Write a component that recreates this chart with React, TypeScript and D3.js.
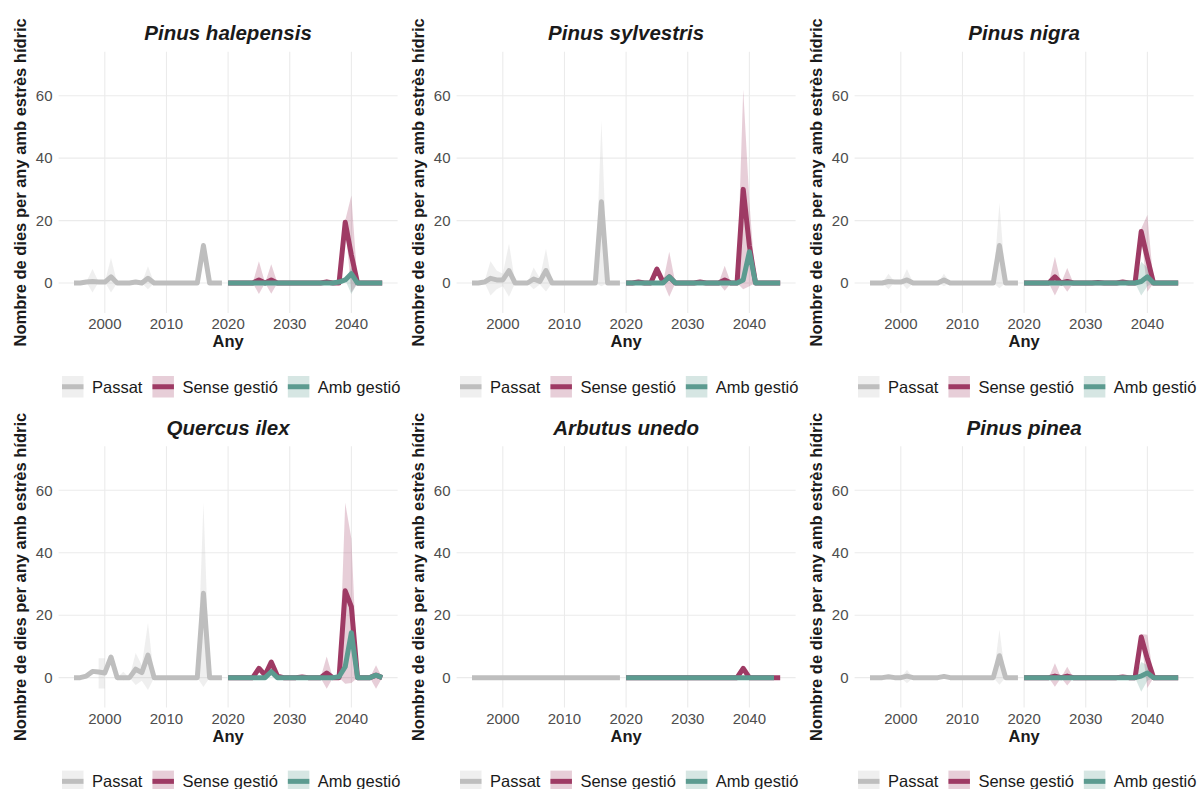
import * as d3 from "d3";

// years on the x axis
const pastYears = [1995, 1996, 1997, 1998, 1999, 2000, 2001, 2002, 2003, 2004, 2005, 2006, 2007, 2008, 2009, 2010, 2011, 2012, 2013, 2014, 2015, 2016, 2017, 2018, 2019];
const futureYears = [2020, 2021, 2022, 2023, 2024, 2025, 2026, 2027, 2028, 2029, 2030, 2031, 2032, 2033, 2034, 2035, 2036, 2037, 2038, 2039, 2040, 2041, 2042, 2043, 2044, 2045];

const seriesNames = ["Passat", "Sense gestió", "Amb gestió"];
const seriesColors = ["#BEBEBE", "#9E3A64", "#5C9B90"];
const speciesNames = ["Pinus halepensis", "Pinus sylvestris", "Pinus nigra", "Quercus ilex", "Arbutus unedo", "Pinus pinea"];
const xTicks = [2000, 2010, 2020, 2030, 2040];
const yTicks = [0, 20, 40, 60];

// Pinus halepensis
const halepensisPassat = [0, 0, 0.3, 0.5, 0.3, 0.3, 2, 0, 0, 0, 0.3, 0, 1.5, 0, 0, 0, 0, 0, 0, 0, 0, 12, 0, 0, 0];
const halepensisPassatLo = [0, 0, 0.3, -3, 0.3, 0.3, -3, 0, 0, 0, 0.3, 0, -2, 0, 0, 0, 0, 0, 0, 0, 0, 11, 0, 0, 0];
const halepensisPassatHi = [0, 0, 0.3, 4.5, 0.3, 0.3, 8, 0, 0, 0, 0.3, 0, 5.4, 0, 0, 0, 0, 0, 0, 0, 0, 13, 0, 0, 0];
const halepensisSense = [0, 0, 0, 0, 0, 1, 0, 1, 0, 0, 0, 0, 0, 0, 0, 0, 0.3, 0, 0, 19.5, 9, 0, 0, 0, 0, 0];
const halepensisSenseLo = [0, 0, 0, 0, 0, -3.5, 0, -3.4, 0, 0, 0, 0, 0, 0, 0, 0, -0.5, 0, 0, 19, -3, 0, 0, 0, 0, 0];
const halepensisSenseHi = [0, 0, 0, 0, 0, 7, 0, 6, 0, 0, 0, 0, 0, 0, 0, 0, 1.2, 0, 0, 20, 28, 0, 0, 0, 0, 0];
const halepensisAmb = [0, 0, 0, 0, 0, 0, 0, 0, 0, 0, 0, 0, 0, 0, 0, 0, 0, 0, 0.3, 1, 3, 0, 0, 0, 0, 0];
const halepensisAmbLo = [0, 0, 0, 0, 0, 0, 0, 0, 0, 0, 0, 0, 0, 0, 0, 0, 0, 0, 0.3, 1, -3.5, 0, 0, 0, 0, 0];
const halepensisAmbHi = [0, 0, 0, 0, 0, 0, 0, 0, 0, 0, 0, 0, 0, 0, 0, 0, 0, 0, 0.3, 1, 5, 0, 0, 0, 0, 0];

// Pinus sylvestris
const sylvestrisPassat = [0, 0, 0.3, 1.5, 1, 1, 4, 0, 0, 0, 1.3, 0.5, 4, 0, 0, 0, 0, 0, 0, 0, 0, 26, 0, 0, 0];
const sylvestrisPassatLo = [0, 0, 0.3, -4, -2, -1, -4.4, 0, 0, 0, -2, -0.5, -2.7, 0, 0, 0, 0, 0, 0, 0, 0, -1, 0, 0, 0];
const sylvestrisPassatHi = [0, 0, 0.3, 7, 4, 3, 12.6, 0, 0, 0, 5, 1.5, 11, 0, 0, 0, 0, 0, 0, 0, 0, 52, 0, 0, 0];
const sylvestrisSense = [0, 0, 0.3, 0, 0, 4.5, 0.3, 2, 0, 0, 0, 0, 0.3, 0, 0, 0, 1, 0, 0, 30, 12, 0, 0, 0, 0, 0];
const sylvestrisSenseLo = [0, 0, -0.3, 0, 0, 3.5, 0.3, -4.4, 0, 0, 0, 0, -0.3, 0, 0, 0, -2.5, 0, 0, -2, -1, 0, 0, 0, 0, 0];
const sylvestrisSenseHi = [0, 0, 0.8, 0, 0, 5.5, 0.3, 10, 0, 0, 0, 0, 1, 0, 0, 0, 5.5, 0, 0, 62, 26, 0, 0, 0, 0, 0];
const sylvestrisAmb = [0, 0, 0, 0, 0, 0, 0, 2, 0, 0, 0, 0, 0, 0, 0, 0, 0, 0, 0, 1, 10, 0, 0, 0, 0, 0];
const sylvestrisAmbLo = [0, 0, 0, 0, 0, 0, 0, 1, 0, 0, 0, 0, 0, 0, 0, 0, 0, 0, 0, 1, 8, 0, 0, 0, 0, 0];
const sylvestrisAmbHi = [0, 0, 0, 0, 0, 0, 0, 3, 0, 0, 0, 0, 0, 0, 0, 0, 0, 0, 0, 1, 12, 0, 0, 0, 0, 0];

// Pinus nigra
const nigraPassat = [0, 0, 0, 0.5, 0.3, 0.3, 1, 0, 0, 0, 0, 0, 1, 0, 0, 0, 0, 0, 0, 0, 0, 12, 0, 0, 0];
const nigraPassatLo = [0, 0, 0, -2, 0.3, 0.3, -2, 0, 0, 0, 0, 0, -1, 0, 0, 0, 0, 0, 0, 0, 0, -1.7, 0, 0, 0];
const nigraPassatHi = [0, 0, 0, 3, 0.3, 0.3, 4.5, 0, 0, 0, 0, 0, 3, 0, 0, 0, 0, 0, 0, 0, 0, 25.6, 0, 0, 0];
const nigraSense = [0, 0, 0, 0, 0, 2, 0, 0.5, 0, 0, 0, 0, 0.2, 0, 0, 0, 0.3, 0, 0, 16.5, 8, 0, 0, 0, 0, 0];
const nigraSenseLo = [0, 0, 0, 0, 0, -4, 0, -2.8, 0, 0, 0, 0, 0.2, 0, 0, 0, -0.5, 0, 0, 15.5, -2.8, 0, 0, 0, 0, 0];
const nigraSenseHi = [0, 0, 0, 0, 0, 8.4, 0, 4.8, 0, 0, 0, 0, 0.2, 0, 0, 0, 1, 0, 0, 17.5, 21.8, 0, 0, 0, 0, 0];
const nigraAmb = [0, 0, 0, 0, 0, 0, 0, 0, 0, 0, 0, 0, 0, 0, 0, 0, 0, 0, 0, 0.5, 2, 0, 0, 0, 0, 0];
const nigraAmbLo = [0, 0, 0, 0, 0, 0, 0, 0, 0, 0, 0, 0, 0, 0, 0, 0, 0, 0, 0, -4, -1, 0, 0, 0, 0, 0];
const nigraAmbHi = [0, 0, 0, 0, 0, 0, 0, 0, 0, 0, 0, 0, 0, 0, 0, 0, 0, 0, 0, 6.8, 5, 0, 0, 0, 0, 0];

// Quercus ilex
const ilexPassat = [0, 0, 0.5, 2, 1.8, 1.5, 6.6, 0, 0, 0, 2.7, 1.6, 7.2, 0, 0, 0, 0, 0, 0, 0, 0, 27, 0, 0, 0];
const ilexPassatLo = [0, 0, 0.5, null, -3.5, -3.5, null, 0, -0.8, 0, -2.4, -1, -4, 0, 0, 0, 0, 0, 0, 0, 0, -3, 0, 0, 0];
const ilexPassatHi = [0, 0, 0.5, null, 6.2, 6.2, null, 0, 1.9, 0, 7.9, 4, 17.5, 0, 0, 0, 0, 0, 0, 0, 0, 56, 0, 0, 0];
const ilexSense = [0, 0, 0, 0, 0, 3, 0.8, 5, 0.5, 0, 0, 0, 0.2, 0, 0, 0, 1.5, 0, 0, 27.8, 22.7, 0, 0, 0, 0.8, 0];
const ilexSenseLo = [0, 0, 0, 0, 0, 2.5, 0.8, 4, 0.5, 0, 0, 0, -0.3, 0, 0, 0, -3.6, 0, 0, -2, -1.7, 0, 0, 0, -3.6, 0];
const ilexSenseHi = [0, 0, 0, 0, 0, 3.5, 0.8, 6, 0.5, 0, 0, 0, 0.8, 0, 0, 0, 6.8, 0, 0, 56, 44.5, 0, 0, 0, 4, 0];
const ilexAmb = [0, 0, 0, 0, 0, 0, 0, 1.9, 0, 0, 0, 0, 0, 0, 0, 0, 0, 0, 0.3, 3.5, 14.4, 0, 0, 0, 0.8, 0];
const ilexAmbLo = [0, 0, 0, 0, 0, 0, 0, 1.5, 0, 0, 0, 0, 0, 0, 0, 0, 0, 0, 0.3, 3, 12, 0, 0, 0, 0.5, 0];
const ilexAmbHi = [0, 0, 0, 0, 0, 0, 0, 2.5, 0, 0, 0, 0, 0, 0, 0, 0, 0, 0, 0.3, 4, 17, 0, 0, 0, 1, 0];

// Arbutus unedo
const unedoPassat = [0, 0, 0, 0, 0, 0, 0, 0, 0, 0, 0, 0, 0, 0, 0, 0, 0, 0, 0, 0, 0, 0, 0, 0, 0];
const unedoSense = [0, 0, 0, 0, 0, 0, 0, 0, 0, 0, 0, 0, 0, 0, 0, 0, 0, 0, 0, 3, 0, 0, 0, 0, 0, 0];
const unedoAmb = [0, 0, 0, 0, 0, 0, 0, 0, 0, 0, 0, 0, 0, 0, 0, 0, 0, 0, 0, 0, 0, 0, 0, 0, 0, null];

// Pinus pinea
const pineaPassat = [0, 0, 0, 0.3, 0, 0, 0.5, 0, 0, 0, 0, 0, 0.4, 0, 0, 0, 0, 0, 0, 0, 0, 7, 0, 0, 0];
const pineaPassatLo = [0, 0, 0, 0.3, 0, 0, -1.8, 0, 0, 0, 0, 0, 0.4, 0, 0, 0, 0, 0, 0, 0, 0, -2.3, 0, 0, 0];
const pineaPassatHi = [0, 0, 0, 0.3, 0, 0, 2.5, 0, 0, 0, 0, 0, 0.4, 0, 0, 0, 0, 0, 0, 0, 0, 15.3, 0, 0, 0];
const pineaSense = [0, 0, 0, 0, 0, 0.5, 0, 0.5, 0, 0, 0, 0, 0, 0, 0, 0, 0.2, 0, 0, 13, 6, 0, 0, 0, 0, 0];
const pineaSenseLo = [0, 0, 0, 0, 0, -2.9, 0, -2.5, 0, 0, 0, 0, 0, 0, 0, 0, 0.2, 0, 0, 12, -3.3, 0, 0, 0, 0, 0];
const pineaSenseHi = [0, 0, 0, 0, 0, 4.6, 0, 3.5, 0, 0, 0, 0, 0, 0, 0, 0, 0.2, 0, 0, 14, 13.7, 0, 0, 0, 0, 0];
const pineaAmb = [0, 0, 0, 0, 0, 0, 0, 0, 0, 0, 0, 0, 0, 0, 0, 0, 0, 0, 0, 0.5, 1.5, 0, 0, 0, 0, 0];
const pineaAmbLo = [0, 0, 0, 0, 0, 0, 0, 0, 0, 0, 0, 0, 0, 0, 0, 0, 0, 0, 0, -4.5, -1, 0, 0, 0, 0, 0];
const pineaAmbHi = [0, 0, 0, 0, 0, 0, 0, 0, 0, 0, 0, 0, 0, 0, 0, 0, 0, 0, 0, 5, 4, 0, 0, 0, 0, 0];

// [mean, lo, hi] per series, in the order of seriesNames
const panels = [
  [[halepensisPassat, halepensisPassatLo, halepensisPassatHi], [halepensisSense, halepensisSenseLo, halepensisSenseHi], [halepensisAmb, halepensisAmbLo, halepensisAmbHi]],
  [[sylvestrisPassat, sylvestrisPassatLo, sylvestrisPassatHi], [sylvestrisSense, sylvestrisSenseLo, sylvestrisSenseHi], [sylvestrisAmb, sylvestrisAmbLo, sylvestrisAmbHi]],
  [[nigraPassat, nigraPassatLo, nigraPassatHi], [nigraSense, nigraSenseLo, nigraSenseHi], [nigraAmb, nigraAmbLo, nigraAmbHi]],
  [[ilexPassat, ilexPassatLo, ilexPassatHi], [ilexSense, ilexSenseLo, ilexSenseHi], [ilexAmb, ilexAmbLo, ilexAmbHi]],
  [[unedoPassat, unedoPassat, unedoPassat], [unedoSense, unedoSense, unedoSense], [unedoAmb, unedoAmb, unedoAmb]],
  [[pineaPassat, pineaPassatLo, pineaPassatHi], [pineaSense, pineaSenseLo, pineaSenseHi], [pineaAmb, pineaAmbLo, pineaAmbHi]],
];

const W = 1201;
const H = 789;
const colStep = 398;
const rowStep = 394.6;
const plot = { left: 58.6, right: 397.6, top: 51.7, bottom: 313 };
const font = '"Liberation Sans", Arial, Helvetica, sans-serif';
const lineW = 5;

const x = d3.scaleLinear().domain([1992.5, 2047.5]).range([plot.left, plot.right]);
const y = d3.scaleLinear().domain([-9.6, 74.1]).range([plot.bottom, plot.top]);

type Pt = { x: number; y: number | null; lo: number | null; hi: number | null };

const area = d3.area<Pt>()
  .defined(d => d.lo != null && d.hi != null)
  .x(d => x(d.x))
  .y0(d => y(d.lo as number))
  .y1(d => y(d.hi as number));

const line = d3.line<Pt>()
  .defined(d => d.y != null)
  .x(d => x(d.x))
  .y(d => y(d.y as number));

let measureCtx: CanvasRenderingContext2D | null = null;
function textWidth(s: string, size: number) {
  if (!measureCtx) measureCtx = document.createElement("canvas").getContext("2d");
  if (!measureCtx) return s.length * size * 0.55;
  measureCtx.font = `${size}px "Liberation Sans"`;
  return measureCtx.measureText(s).width;
}

function Panel({ idx }: { idx: number }) {
  const col = idx % 3;
  const row = Math.floor(idx / 3);
  const series = panels[idx].map((s, si) => {
    const yrs = si === 0 ? pastYears : futureYears;
    return yrs.map((yr, i) => ({ x: yr, y: s[0][i], lo: s[1][i], hi: s[2][i] }));
  });
  const cx = (plot.left + plot.right) / 2;
  const cy = (plot.top + plot.bottom) / 2;

  // legend layout
  const legendSize = 16.5;
  let lx = 62;
  const legendItems = seriesNames.map((name, i) => {
    const item = { name, key: lx, text: lx + 30, color: seriesColors[i] };
    lx = lx + 30 + textWidth(name, legendSize) + 10;
    return item;
  });

  return (
    <g transform={`translate(${col * colStep},${row * rowStep})`}>
      {/* grid */}
      {yTicks.map(t => (
        <line key={"gy" + t} x1={plot.left} x2={plot.right} y1={y(t)} y2={y(t)} stroke="#EBEBEB" strokeWidth={1.1} />
      ))}
      {xTicks.map(t => (
        <line key={"gx" + t} x1={x(t)} x2={x(t)} y1={plot.top} y2={plot.bottom} stroke="#EBEBEB" strokeWidth={1.1} />
      ))}
      {/* ribbons */}
      {series.map((pts, si) => (
        <path key={"r" + si} d={area(pts) || ""} fill={seriesColors[si]} fillOpacity={0.25} stroke="none" />
      ))}
      {/* lines */}
      {series.map((pts, si) => (
        <path key={"l" + si} d={line(pts) || ""} fill="none" stroke={seriesColors[si]} strokeWidth={lineW} strokeLinejoin="round" />
      ))}
      {/* tick labels */}
      {xTicks.map(t => (
        <text key={"tx" + t} x={x(t)} y={329} textAnchor="middle" fontSize={15} fill="#4D4D4D" fontFamily={font}>{t}</text>
      ))}
      {yTicks.map(t => (
        <text key={"ty" + t} x={52.5} y={y(t) + 5.3} textAnchor="end" fontSize={15} fill="#4D4D4D" fontFamily={font}>{t}</text>
      ))}
      {/* titles */}
      <text x={cx} y={40} textAnchor="middle" fontSize={20.5} fontWeight="bold" fontStyle="italic" fill="#1A1A1A" fontFamily={font}>
        {speciesNames[idx]}
      </text>
      <text x={cx} y={347} textAnchor="middle" fontSize={16.5} fontWeight="bold" fill="#1A1A1A" fontFamily={font}>Any</text>
      <text transform={`translate(26,${cy}) rotate(-90)`} textAnchor="middle" fontSize={16.5} fontWeight="bold" fill="#1A1A1A" fontFamily={font}>
        Nombre de dies per any amb estrès hídric
      </text>
      {/* legend */}
      {legendItems.map(it => (
        <g key={it.name}>
          <rect x={it.key} y={376} width={21.5} height={21.5} fill={it.color} fillOpacity={0.25} />
          <line x1={it.key} x2={it.key + 21.5} y1={386.75} y2={386.75} stroke={it.color} strokeWidth={lineW} />
          <text x={it.text} y={392.5} fontSize={legendSize} fill="#1A1A1A" fontFamily={font}>{it.name}</text>
        </g>
      ))}
    </g>
  );
}

export default function App() {
  return (
    <svg width={W} height={H} style={{ position: "absolute", left: 0, top: 0, background: "#fff" }}>
      <rect width={W} height={H} fill="#fff" />
      {speciesNames.map((_, i) => <Panel key={i} idx={i} />)}
    </svg>
  );
}
